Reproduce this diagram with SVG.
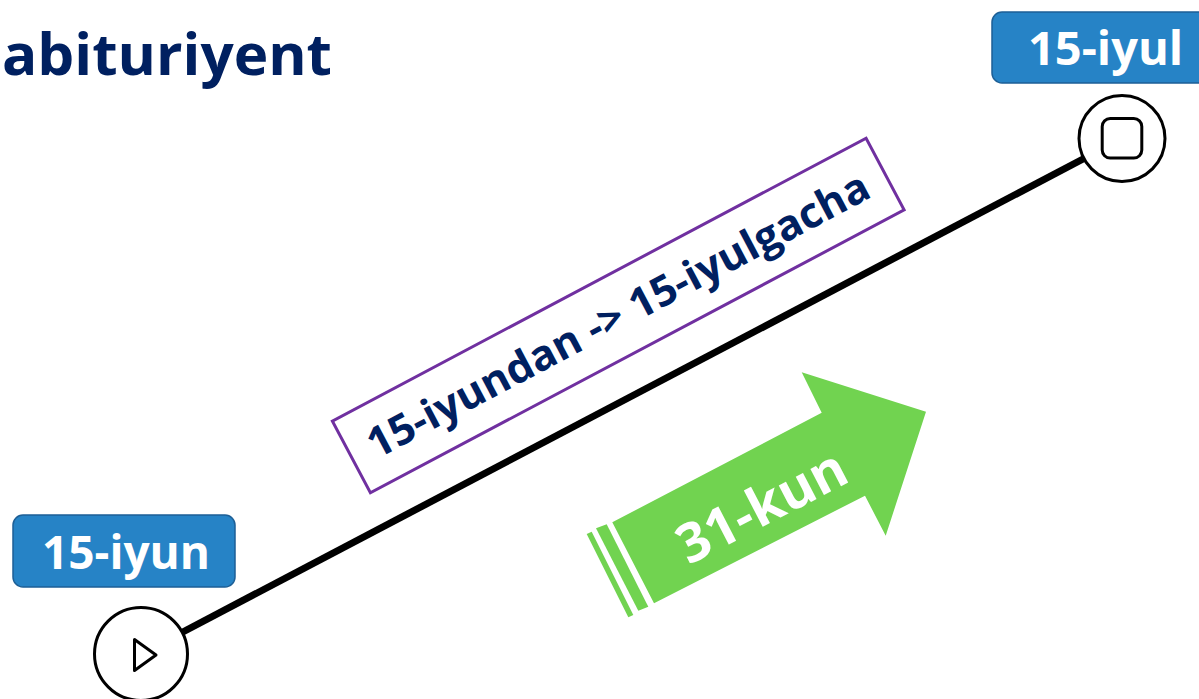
<svg xmlns="http://www.w3.org/2000/svg" width="1199" height="699" viewBox="0 0 1199 699">
<style>
.lbl{fill:#2683C6;stroke:#1D5F96;stroke-width:1.5}
.lt{font-family:"Open Sans","Noto Sans","Liberation Sans",sans-serif;font-weight:700;fill:#ffffff}
.nv{font-family:"Open Sans","Noto Sans","Liberation Sans",sans-serif;font-weight:700;fill:#002060}
.ring{fill:#ffffff;stroke:#000000;stroke-width:3}
.ico{fill:none;stroke:#000000;stroke-width:3;stroke-linejoin:round}
</style>
<rect width="1199" height="699" fill="#ffffff"/>
<g id="title">
<text class="nv" x="2" y="75" font-size="58" textLength="330" lengthAdjust="spacingAndGlyphs">abituriyent</text>
</g>
<g id="connectors">
<line x1="141" y1="654" x2="1122" y2="138.5" stroke="#000000" stroke-width="7"/>
</g>
<g id="period-box">
<g transform="translate(618.25,315.5) rotate(-27.92)">
<rect x="-302" y="-40.6" width="604" height="81.2" fill="#ffffff" stroke="#7030A0" stroke-width="3"/>
<text class="nv" x="0" y="14" font-size="42" text-anchor="middle" textLength="562" lengthAdjust="spacingAndGlyphs">15-iyundan -&gt; 15-iyulgacha</text>
</g>
</g>
<g id="duration-arrow">
<polygon points="612.3,522.3 821.7,412.7 801.7,372.3 926,411.7 885.7,535.7 865,495.7 654,603.3" fill="#71D350"/>
<polygon points="596,528.3 606.7,524.3 648.3,606.7 638.3,610.7" fill="#71D350"/>
<polygon points="586.7,534 591.7,531.7 633.3,615 628.3,617.3" fill="#71D350"/>
<text class="lt" font-size="54" text-anchor="middle" transform="translate(762,507) rotate(-27.4)" x="0" y="18">31-kun</text>
</g>
<g id="start-node">
<circle class="ring" cx="141" cy="654" r="46.5"/>
<polygon class="ico" points="134.5,639.5 156,655 134.5,670.5"/>
</g>
<g id="end-node">
<circle class="ring" cx="1122" cy="138.5" r="43"/>
<rect class="ico" x="1102.2" y="118.5" width="39.6" height="39.6" rx="8"/>
</g>
<g id="start-label">
<rect class="lbl" x="13" y="515" width="222" height="72" rx="10"/>
<text class="lt" x="42" y="569" font-size="46">15-iyun</text>
</g>
<g id="end-label">
<rect class="lbl" x="992" y="12" width="230" height="71" rx="10"/>
<text class="lt" x="1028" y="65" font-size="47">15-iyul</text>
</g>
</svg>
